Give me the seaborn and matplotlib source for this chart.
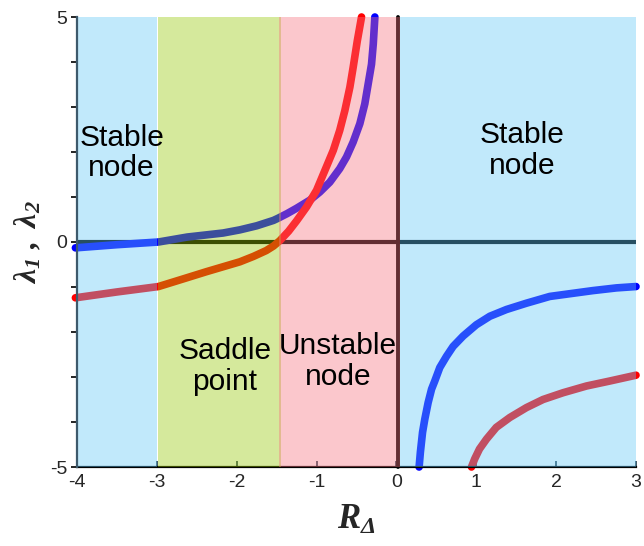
import matplotlib
matplotlib.use("Agg")
import matplotlib.pyplot as plt
import seaborn as sns
import pandas as pd
from matplotlib.ticker import FixedLocator, FuncFormatter

# ---------------- data ----------------
blue_left_x = [-4.02, -3.5, -2.98, -2.62, -2.17, -1.96, -1.75, -1.54, -1.48, -1.37, -1.25, -1.084, -0.96,
               -0.834, -0.71, -0.625, -0.542, -0.458, -0.396, -0.354, -0.312, -0.29, -0.27]
blue_left_y = [-0.13, -0.06, 0.0, 0.11, 0.20, 0.27, 0.36, 0.48, 0.53, 0.63, 0.75, 0.93, 1.11,
               1.33, 1.63, 1.89, 2.22, 2.63, 3.07, 3.51, 3.95, 4.4, 5.0]

red_left_x = [-4.02, -3.5, -2.98, -2.67, -2.38, -2.17, -1.96, -1.79, -1.63, -1.54, -1.46, -1.35, -1.25,
              -1.125, -1.0, -0.896, -0.79, -0.71, -0.646, -0.583, -0.542, -0.49, -0.437]
red_left_y = [-1.24, -1.11, -0.99, -0.82, -0.66, -0.55, -0.44, -0.32, -0.19, -0.09, 0.03, 0.24, 0.47,
              0.78, 1.15, 1.59, 2.04, 2.48, 2.92, 3.44, 3.88, 4.47, 5.0]

blue_right_x = [0.284, 0.30, 0.327, 0.355, 0.397, 0.44, 0.48, 0.543, 0.627, 0.71, 0.835,
                1.0, 1.17, 1.378, 1.628, 1.92, 2.21, 2.46, 2.755, 3.0]
blue_right_y = [-5.0, -4.67, -4.23, -3.94, -3.57, -3.27, -3.09, -2.79, -2.54, -2.32, -2.09,
                -1.84, -1.65, -1.50, -1.36, -1.21, -1.14, -1.08, -1.02, -0.99]

red_right_x = [0.94, 0.98, 1.04, 1.128, 1.25, 1.42, 1.628, 1.836, 2.086, 2.38, 2.67, 3.0]
red_right_y = [-5.0, -4.82, -4.6, -4.38, -4.12, -3.9, -3.68, -3.5, -3.35, -3.2, -3.09, -2.96]

region_start = [-4.0, -2.98, -1.47, 0.045]
region_end = [-3.0, -1.45, 0.04, 3.0]
region_color = ["#64c8f7", "#98c808", "#f77580", "#64c8f7"]
region_text = ["Stable\nnode", "Saddle\npoint", "Unstable\nnode", "Stable\nnode"]
region_text_x = [-3.44, -2.15, -0.73, 1.57]
region_text_y = [1.98, -2.77, -2.65, 2.04]

x_ticks = [-4, -3, -2, -1, 0, 1, 2, 3]
y_ticks = [-5, -4, -3, -2, -1, 0, 1, 2, 3, 4, 5]
y_labelled = [-5, 0, 5]

# ---------------- style ----------------
sns.set_theme(style="white")
plt.rcParams["font.family"] = ["Liberation Sans", "DejaVu Sans"]
plt.rcParams["mathtext.fontset"] = "custom"
plt.rcParams["mathtext.it"] = "Liberation Serif:italic:bold"
plt.rcParams["mathtext.rm"] = "Liberation Serif:italic:bold"
plt.rcParams["mathtext.bf"] = "Liberation Serif:italic:bold"

fig = plt.figure(figsize=(6.44, 5.46), dpi=100)
ax = fig.add_axes([77 / 644, 79 / 546, (636 - 77) / 644, (467 - 17) / 546])

# ---------------- curves (beneath translucent regions) ----------------
curves = [
    (blue_left_x, blue_left_y, "#0000ff"),
    (red_left_x, red_left_y, "#ff0000"),
    (blue_right_x, blue_right_y, "#0000ff"),
    (red_right_x, red_right_y, "#ff0000"),
]
for cx, cy, col in curves:
    df = pd.DataFrame({"x": cx, "y": cy})
    sns.lineplot(data=df, x="x", y="y", sort=False, estimator=None, color=col,
                 lw=5.5, solid_capstyle="round", solid_joinstyle="round",
                 clip_on=False, zorder=2, ax=ax)

# zero line and vertical line at R = 0
ax.axhline(0, color="black", lw=3, zorder=1.8)
ax.plot([0.02, 0.02], [-5, 5], color="black", lw=2.8, solid_capstyle="round",
        clip_on=False, zorder=1.8)

# ---------------- regions ----------------
for s, e, c in zip(region_start, region_end, region_color):
    ax.axvspan(s, e, color=c, alpha=0.4, lw=0, zorder=3)

for t, tx, ty in zip(region_text, region_text_x, region_text_y):
    ax.text(tx, ty, t, ha="center", va="center", fontsize=21.5, color="black",
            linespacing=1.12, zorder=4)

# ---------------- axes ----------------
ax.set_xlim(-4, 3)
ax.set_ylim(-5, 5)
ax.xaxis.set_major_locator(FixedLocator(x_ticks))
ax.yaxis.set_major_locator(FixedLocator(y_ticks))
ax.yaxis.set_major_formatter(FuncFormatter(lambda v, p: f"{int(round(v))}" if int(round(v)) in y_labelled else ""))
ax.xaxis.set_major_formatter(FuncFormatter(lambda v, p: f"{int(round(v))}"))
ax.tick_params(axis="x", direction="in", length=4, width=1.2, color="#1d3a4a",
               labelsize=14, pad=5, bottom=True)
ax.tick_params(axis="y", direction="out", length=4, width=1.2, color="black",
               labelsize=14, pad=3, left=True)

for side in ["top", "right"]:
    ax.spines[side].set_visible(False)
ax.spines["bottom"].set_color("black")
ax.spines["bottom"].set_linewidth(1.6)
ax.spines["left"].set_color("#3d5a6c")
ax.spines["left"].set_linewidth(1.6)
ax.spines["left"].set_zorder(3.5)

ax.set_xlabel(r"$R_{\Delta}$", fontsize=25)
ax.set_ylabel(r"$\lambda_1\ ,\ \lambda_2$", fontsize=23)
ax.xaxis.set_label_coords(0.5, -0.08)
ax.yaxis.set_label_coords(-0.06, 0.5)

fig.savefig("out.png", dpi=100)
